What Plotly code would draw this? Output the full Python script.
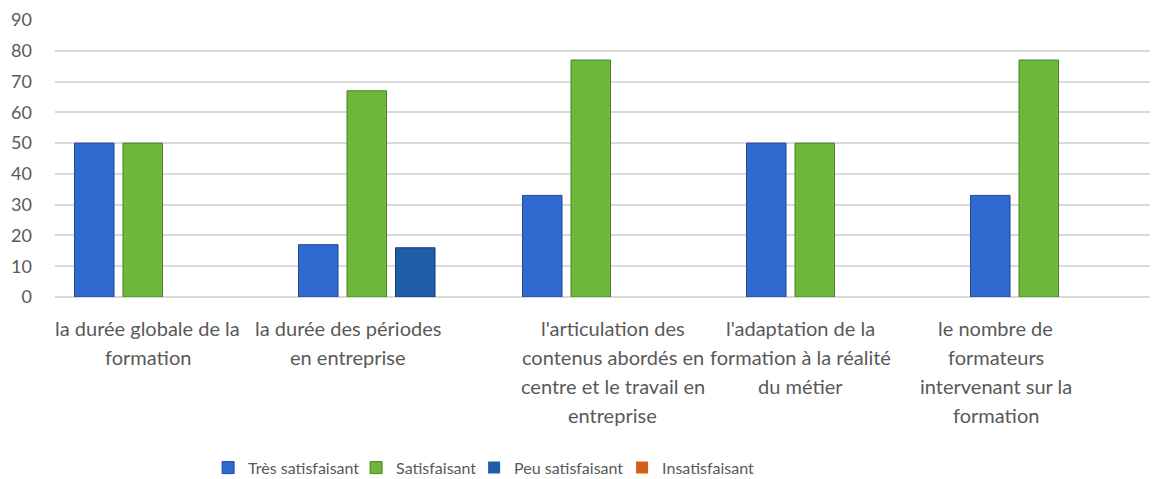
import plotly.graph_objects as go

categories = [
    "la durée globale de la<br>formation",
    "la durée des périodes<br>en entreprise",
    "l'articulation des<br>contenus abordés en<br>centre et le travail en<br>entreprise",
    "l'adaptation de la<br>formation à la réalité<br>du métier",
    "le nombre de<br>formateurs<br>intervenant sur la<br>formation",
]
series_names = ["Très satisfaisant", "Satisfaisant", "Peu satisfaisant", "Insatisfaisant"]
tres_satisfaisant = [50, 17, 33, 50, 33]
satisfaisant = [50, 67, 77, 50, 77]
peu_satisfaisant = [0, 16, 0, 0, 0]
insatisfaisant = [0, 0, 0, 0, 0]
y_ticks = [0, 10, 20, 30, 40, 50, 60, 70, 80, 90]

# label horizontal offsets (in category units) as placed in the reference
label_offsets = [-0.085, -0.19, -0.01, -0.17, -0.30]
# legend entry widths (px) to mimic the reference spacing
legend_widths = [103, 73, 103, 90]

colors = ["#2F6AD0", "#6BB83A", "#1E5DA8", "#D2601A"]
edge_colors = ["#1F4A96", "#4A8427", "#133F70", "#9A4212"]
values = [tres_satisfaisant, satisfaisant, peu_satisfaisant, insatisfaisant]

FONT = "Lato"
TXT = "#595959"

# page body has an 8px default margin; figure is sized to fit the window
W, H = 1150, 471

fig = go.Figure()
idx = list(range(len(categories)))
for name, vals, c, ec, lw in zip(series_names, values, colors, edge_colors, legend_widths):
    fig.add_trace(go.Bar(
        x=idx, y=vals, name=name, legendwidth=lw,
        marker=dict(color=c, line=dict(color=ec, width=[1 if v else 0 for v in vals])),
    ))

annotations = []
line_h = 29
for i, (cat, off) in enumerate(zip(categories, label_offsets)):
    for j, line in enumerate(cat.split("<br>")):
        annotations.append(dict(
            x=i + off, xref="x", y=0, yref="y",
            yanchor="middle", xanchor="center",
            yshift=-31 - j * line_h,
            text=line, showarrow=False,
            font=dict(family=FONT, size=20, color=TXT),
        ))

fig.update_layout(
    width=W, height=H,
    margin=dict(l=47, r=0, t=12, b=182),
    paper_bgcolor="white", plot_bgcolor="white",
    barmode="group", bargap=0.134, bargroupgap=0.185,
    font=dict(family=FONT, size=18, color=TXT),
    xaxis=dict(range=[-0.5, 4.424], showticklabels=False, showgrid=False,
               zeroline=False, showline=False, ticks=""),
    yaxis=dict(range=[0, 90], tickvals=y_ticks, showgrid=True,
               gridcolor="#D9D9D9", gridwidth=1.5, zeroline=True,
               zerolinecolor="#D9D9D9", zerolinewidth=1.5, showline=False,
               ticklabelstandoff=22, tickfont=dict(family=FONT, size=18, color=TXT)),
    legend=dict(orientation="h", x=0.174, xanchor="left", xref="container",
                y=0.024, yanchor="middle", yref="container",
                font=dict(family=FONT, size=16, color=TXT),
                itemwidth=30, traceorder="normal"),
    annotations=annotations,
    showlegend=True,
)

fig.write_html("out.html")
